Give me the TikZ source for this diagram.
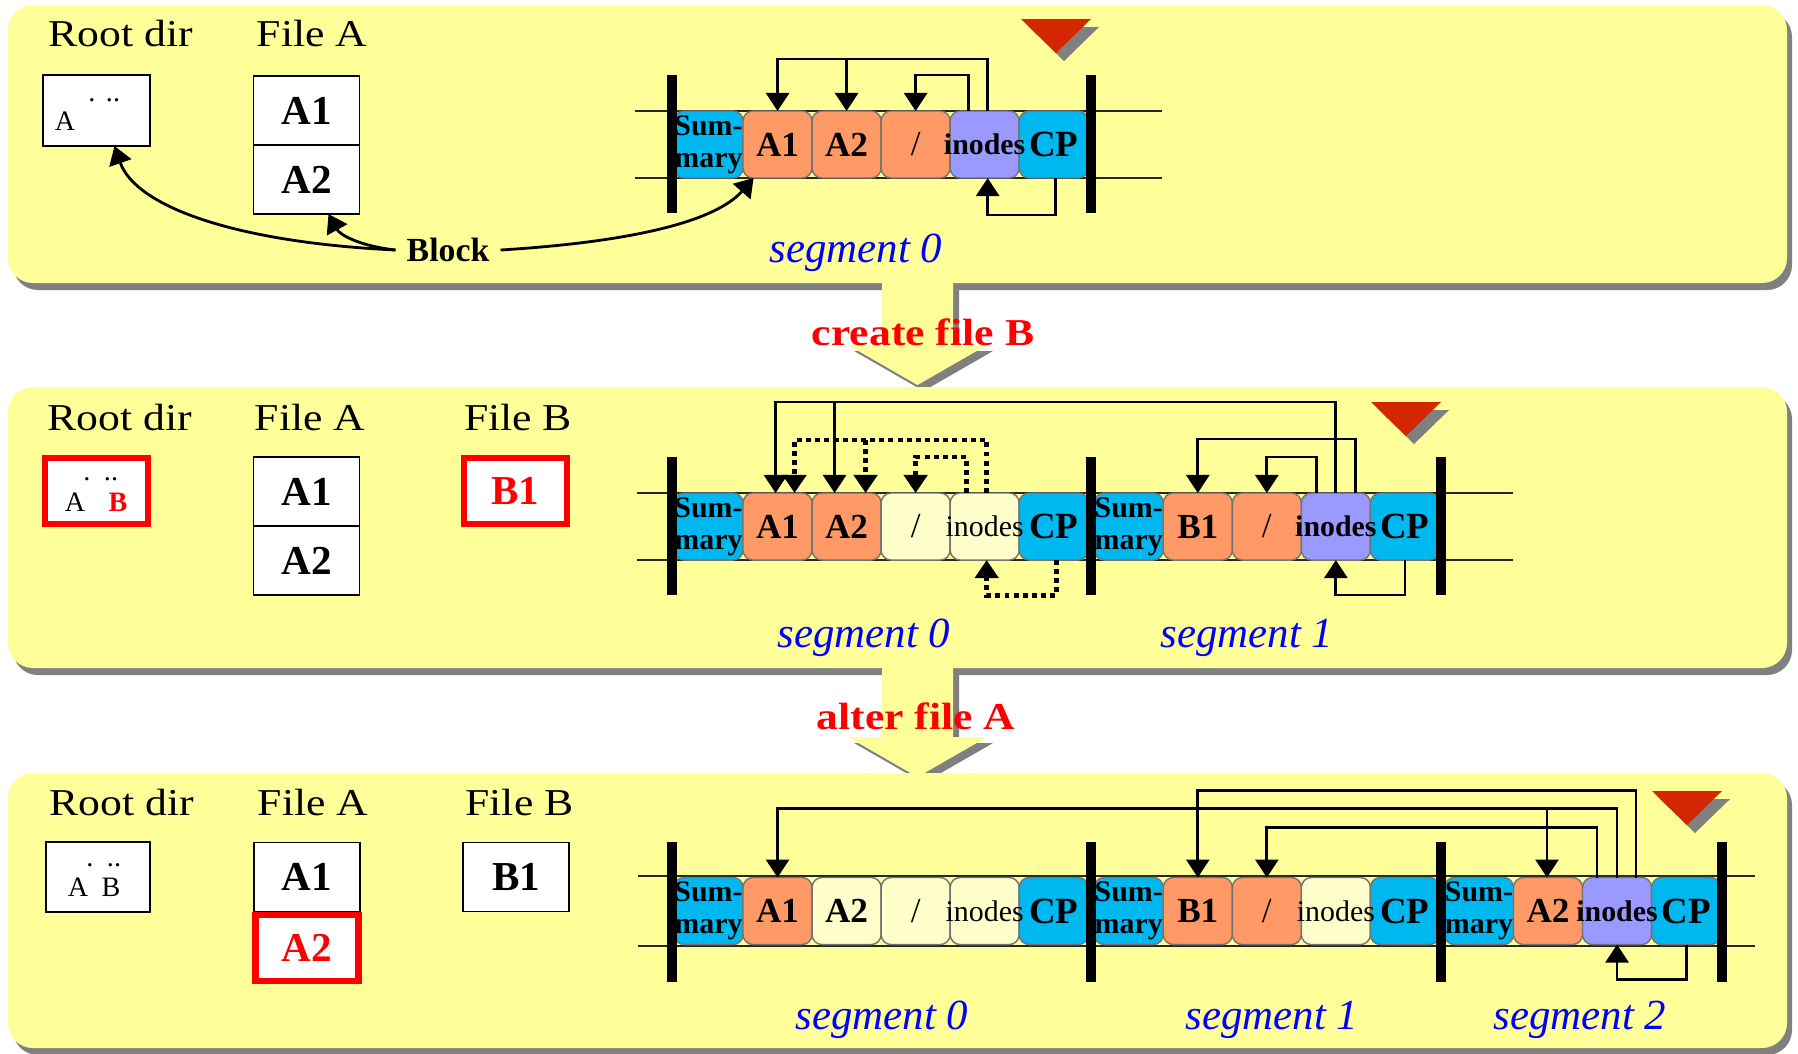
\documentclass[tikz,border=0pt]{standalone}
\usepackage{fontspec}
\setmainfont{Liberation Serif}
\newfontfamily\widefont{Liberation Serif}[FakeStretch=1.15]
\usetikzlibrary{arrows.meta, calc, positioning}

\definecolor{panelyellow}{RGB}{255,255,153}
\definecolor{shadowgray}{RGB}{128,128,128}
\definecolor{segcyan}{RGB}{0,184,240}
\definecolor{segorange}{RGB}{255,153,102}
\definecolor{segpurple}{RGB}{153,153,255}
\definecolor{segpale}{RGB}{255,255,204}
\definecolor{tipred}{RGB}{212,38,0}

\tikzset{
  heading/.style={font=\widefont\fontsize{10.8}{13}\selectfont},
  actlabel/.style={font=\widefont\bfseries\fontsize{10.8}{13}\selectfont, text=red},
  seglabel/.style={font=\itshape\fontsize{12.2}{14}\selectfont, text=blue},
  filebox/.style={draw, line width=0.5pt, fill=white, minimum width=1.06cm, minimum height=0.69cm, inner sep=0pt, outer sep=0pt, font=\bfseries\fontsize{11.7}{13}\selectfont},
  newbox/.style={filebox, draw=red, line width=1.8pt, text=red, minimum width=1.03cm, minimum height=0.66cm, outer sep=0.9pt},
  entry/.style={inner sep=0pt, font=\fontsize{8}{9}\selectfont},
  cell/.style={draw=black!55, line width=0.4pt, rounded corners=0.1cm, minimum width=0.69cm, minimum height=0.67cm, inner sep=0pt, outer sep=0pt, font=\bfseries\fontsize{10}{12}\selectfont},
  summ/.style={cell, fill=segcyan, align=center, font=\bfseries\fontsize{8.5}{9}\selectfont},
  cpcell/.style={cell, fill=segcyan, font=\bfseries\fontsize{10.5}{12}\selectfont},
  datacell/.style={cell, fill=segorange},
  inocell/.style={cell, fill=segpurple},
  oldcell/.style={cell, fill=segpale},
  slash/.style={font=\fontsize{10}{12}\selectfont},
  inotext/.style={inner sep=0pt, font=\bfseries\fontsize{8.5}{10}\selectfont},
  oldinotext/.style={inner sep=0pt, font=\fontsize{8.5}{10}\selectfont},
  rail/.style={line width=0.6pt, black!85},
  bar/.style={line width=2.6pt},
  flow/.style={line width=0.8pt, -{Triangle[length=0.18cm, width=0.23cm]}},
  oldflow/.style={flow, line width=1.4pt, dash pattern=on 1.4pt off 1.2pt},
  panel/.style={fill=panelyellow, rounded corners=0.25cm},
  shade/.style={fill=shadowgray, rounded corners=0.25cm},
}

\begin{document}
\begin{tikzpicture}[x=0.01cm, y=-0.01cm]
\useasboundingbox (0,0) rectangle (1798,1053);
% panels, shadows and step arrows
\fill[shade] (13,12) rectangle (1792,290);
\fill[panel] (8,5) rectangle (1787,283);
\fill[shadowgray] (888,289) -- (888,351) -- (854,351) -- (923.5,391) -- (993,351) -- (959,351) -- (959,289) -- cycle;
\fill[panelyellow] (882,283) -- (882,345) -- (848,345) -- (917.5,385) -- (987,345) -- (953,345) -- (953,283) -- cycle;
\fill[shade] (13,394) rectangle (1792,675);
\fill[panel] (8,387) rectangle (1787,668);
\fill[shadowgray] (888,674) -- (888,743) -- (854,743) -- (923.5,783) -- (993,743) -- (959,743) -- (959,674) -- cycle;
\fill[panelyellow] (882,668) -- (882,737) -- (848,737) -- (917.5,777) -- (987,737) -- (953,737) -- (953,668) -- cycle;
\fill[shade] (13,780) rectangle (1792,1055);
\fill[panel] (8,773) rectangle (1787,1048);
\node[actlabel] (act1) at (923,332) {create file B};
\node[actlabel] (act2) at (916,716) {alter file A};
% log head markers
\foreach \tx/\ty in {1021/19, 1371/402, 1652/791} {
  \fill[shadowgray] (\tx+8,\ty+8) -- ++(70,0) -- ++(-35,34) -- cycle;
  \fill[tipred] (\tx,\ty) -- ++(70,0) -- ++(-35,34) -- cycle;
}

% top: file A written
\node[heading] (t-hroot) at (121,33) {Root dir};
\node[heading] (t-hfa) at (312,33) {File A};
\node[filebox, minimum width=1.07cm, minimum height=0.71cm] (t-root) at (96.5,110.5) {};
\node[entry] (t-ea) at (65,121) {A};
\node[entry, anchor=base] (t-dot) at (92,101) {.};
\node[entry, anchor=base] (t-ddot) at (113,101) {..};
\node[filebox] (t-a1) at (306.5,110.5) {A1};
\node[filebox, below=0pt of t-a1] (t-a2) {A2};
\draw[rail] (635,111) -- (1162,111) (635,178) -- (1162,178);
\node[summ] (t0-sum) at (708.5,144.5) {Sum-\\mary};
\node[datacell, right=0pt of t0-sum] (t0-a1) {A1};
\node[datacell, right=0pt of t0-a1] (t0-a2) {A2};
\node[datacell, slash, right=0pt of t0-a2] (t0-dir) {/};
\node[inocell, right=0pt of t0-dir] (t0-ino) {};
\node[cpcell, right=0pt of t0-ino] (t0-cp) {CP};
\node[inotext] (t0-inot) at (t0-ino) {inodes};
\draw[bar] (672,75) -- (672,213) (1091,75) -- (1091,213);
\draw[flow] ($(t0-ino.north)+(3,0)$) -- ++(0,-52) -| (t0-a1.north);
\draw[flow] ($(t0-a2.north)+(0,-52)$) -- (t0-a2.north);
\draw[flow] ($(t0-ino.north)+(-16,0)$) -- ++(0,-36) -| (t0-dir.north);
\draw[flow] ($(t0-cp.south)+(2,0)$) -- ++(0,37) -| ($(t0-ino.south)+(3,0)$);
\node[seglabel] (t0-lab) at (856,253) {segment 0};
\node[font=\bfseries\fontsize{9.6}{11}\selectfont, inner sep=3pt] (blk) at (448,250) {Block};
\draw[flow] (blk.west) .. controls (230,242) and (135,205) .. ($(t-root.south)+(18,0)$);
\draw[flow] (blk.west) .. controls (360,246) and (340,235) .. ($(t-a2.south)+(22,0)$);
\draw[flow] (blk.east) .. controls (630,242) and (715,222) .. ($(t0-a1.south)+(-24,0)$);

% middle: file B created
\node[heading] (m-hroot) at (120,417) {Root dir};
\node[heading] (m-hfa) at (310,417) {File A};
\node[heading] (m-hfb) at (518,417) {File B};
\node[newbox] (m-root) at (96.5,491) {};
\node[entry] (m-ea) at (75,502) {A};
\node[entry, text=red, font=\bfseries\fontsize{8}{9}\selectfont] (m-eb) at (118,502) {B};
\node[entry, anchor=base] (m-dot) at (87,480) {.};
\node[entry, anchor=base] (m-ddot) at (111,480) {..};
\node[filebox] (m-a1) at (306.5,491.5) {A1};
\node[filebox, below=0pt of m-a1] (m-a2) {A2};
\node[newbox] (m-b1) at (515.5,491) {B1};
\draw[rail] (637,493) -- (1513,493) (637,560) -- (1513,560);
\node[summ] (m0-sum) at (708.5,526.5) {Sum-\\mary};
\node[datacell, right=0pt of m0-sum] (m0-a1) {A1};
\node[datacell, right=0pt of m0-a1] (m0-a2) {A2};
\node[oldcell, slash, right=0pt of m0-a2] (m0-dir) {/};
\node[oldcell, right=0pt of m0-dir] (m0-ino) {};
\node[cpcell, right=0pt of m0-ino] (m0-cp) {CP};
\node[summ, right=0.06cm of m0-cp] (m1-sum) {Sum-\\mary};
\node[datacell, right=0pt of m1-sum] (m1-b1) {B1};
\node[datacell, slash, right=0pt of m1-b1] (m1-dir) {/};
\node[inocell, right=0pt of m1-dir] (m1-ino) {};
\node[cpcell, right=0pt of m1-ino] (m1-cp) {CP};
\node[oldinotext] (m0-inot) at (m0-ino) {inodes};
\node[inotext] (m1-inot) at (m1-ino) {inodes};
\draw[bar] (672,457) -- (672,595) (1091,457) -- (1091,595) (1441,457) -- (1441,595);
\draw[oldflow] ($(m0-ino.north)+(2,0)$) -- ++(0,-53) -| ($(m0-a1.north)+(17,0)$);
\draw[oldflow] ($(m0-a2.north)+(19,-53)$) -- ($(m0-a2.north)+(19,0)$);
\draw[oldflow] ($(m0-ino.north)+(-18,0)$) -- ++(0,-36) -| (m0-dir.north);
\draw[oldflow] ($(m0-cp.south)+(3,0)$) -- ++(0,35) -| ($(m0-ino.south)+(2,0)$);
\draw[flow] (m1-ino.north) -- ++(0,-91) -| ($(m0-a1.north)+(-2,0)$);
\draw[flow] ($(m0-a2.north)+(-12,-91)$) -- ($(m0-a2.north)+(-12,0)$);
\draw[flow] ($(m1-ino.north)+(20,0)$) -- ++(0,-54) -| (m1-b1.north);
\draw[flow] ($(m1-ino.north)+(-19,0)$) -- ++(0,-36) -| (m1-dir.north);
\draw[flow] (m1-cp.south) -- ++(0,35) -| (m1-ino.south);
\node[seglabel] (m0-lab) at (864,638) {segment 0};
\node[seglabel] (m1-lab) at (1247,638) {segment 1};

% bottom: file A altered
\node[heading] (b-hroot) at (122,802) {Root dir};
\node[heading] (b-hfa) at (313,802) {File A};
\node[heading] (b-hfb) at (519.5,802) {File B};
\node[filebox, minimum width=1.04cm, minimum height=0.70cm] (b-root) at (98,877) {};
\node[entry] (b-ea) at (78,887) {A};
\node[entry] (b-eb) at (111,887) {B};
\node[entry, anchor=base] (b-dot) at (90,866) {.};
\node[entry, anchor=base] (b-ddot) at (114,866) {..};
\node[filebox] (b-a1) at (307,877) {A1};
\node[newbox, below=0pt of b-a1] (b-a2) {A2};
\node[filebox] (b-b1) at (516,877) {B1};
\draw[rail] (638,876) -- (1755,876) (638,946) -- (1755,946);
\begin{scope}[every node/.append style={minimum height=0.70cm}]
\node[summ] (b0-sum) at (708.5,911) {Sum-\\mary};
\node[datacell, right=0pt of b0-sum] (b0-a1) {A1};
\node[oldcell, right=0pt of b0-a1] (b0-a2) {A2};
\node[oldcell, slash, right=0pt of b0-a2] (b0-dir) {/};
\node[oldcell, right=0pt of b0-dir] (b0-ino) {};
\node[cpcell, right=0pt of b0-ino] (b0-cp) {CP};
\node[summ, right=0.06cm of b0-cp] (b1-sum) {Sum-\\mary};
\node[datacell, right=0pt of b1-sum] (b1-b1) {B1};
\node[datacell, slash, right=0pt of b1-b1] (b1-dir) {/};
\node[oldcell, right=0pt of b1-dir] (b1-ino) {};
\node[cpcell, right=0pt of b1-ino] (b1-cp) {CP};
\node[summ, right=0.05cm of b1-cp] (b2-sum) {Sum-\\mary};
\node[datacell, right=0pt of b2-sum] (b2-a2) {A2};
\node[inocell, right=0pt of b2-a2] (b2-ino) {};
\node[cpcell, right=0pt of b2-ino] (b2-cp) {CP};
\end{scope}
\node[oldinotext] (b0-inot) at (b0-ino) {inodes};
\node[oldinotext] (b1-inot) at (b1-ino) {inodes};
\node[inotext] (b2-inot) at (b2-ino) {inodes};
\draw[bar] (672,842) -- (672,982) (1091,842) -- (1091,982) (1441,842) -- (1441,982) (1722,842) -- (1722,982);
\draw[flow] ($(b2-ino.north)+(19,0)$) -- ++(0,-87) -| (b1-b1.north);
\draw[flow] (b2-ino.north) -- ++(0,-69) -| (b0-a1.north);
\draw[flow] ($(b2-a2.north)+(-1,-69)$) -- ($(b2-a2.north)+(-1,0)$);
\draw[flow] ($(b2-ino.north)+(-20,0)$) -- ++(0,-50) -| (b1-dir.north);
\draw[flow] (b2-cp.south) -- ++(0,35) -| (b2-ino.south);
\node[seglabel] (b0-lab) at (882,1020) {segment 0};
\node[seglabel] (b1-lab) at (1272,1020) {segment 1};
\node[seglabel] (b2-lab) at (1580,1020) {segment 2};
\end{tikzpicture}
\end{document}
